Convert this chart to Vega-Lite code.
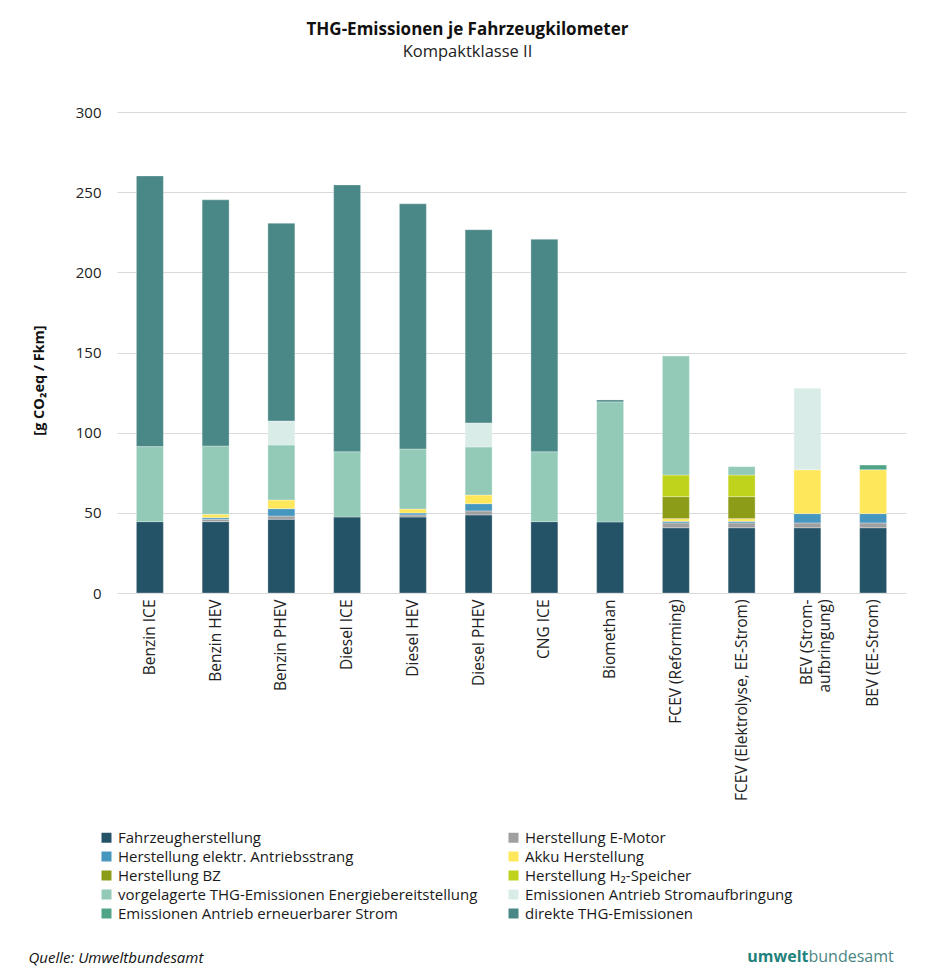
{
  "$schema": "https://vega.github.io/schema/vega-lite/v6.json",
  "width": 789,
  "height": 481,
  "autosize": {"type": "none"},
  "padding": {"left": 117, "top": 112, "right": 36, "bottom": 387},
  "background": "white",
  "config": {"font": "Open Sans", "view": {"stroke": null}},
  "title": {
    "text": "THG-Emissionen je Fahrzeugkilometer",
    "subtitle": "Kompaktklasse II",
    "anchor": "middle",
    "dx": -44,
    "fontSize": 17,
    "fontWeight": "bold",
    "color": "#111111",
    "subtitleFontSize": 16.5,
    "subtitleColor": "#222222",
    "subtitlePadding": 5,
    "offset": 44
  },
  "data": {
    "values": [
      {"cat": "Benzin ICE", "comp": "Fahrzeugherstellung", "v": 44.5},
      {"cat": "Benzin ICE", "comp": "vorgelagerte THG-Emissionen Energiebereitstellung", "v": 46.8},
      {"cat": "Benzin ICE", "comp": "direkte THG-Emissionen", "v": 168.8},

      {"cat": "Benzin HEV", "comp": "Fahrzeugherstellung", "v": 44.5},
      {"cat": "Benzin HEV", "comp": "Herstellung E-Motor", "v": 1.5},
      {"cat": "Benzin HEV", "comp": "Herstellung elektr. Antriebsstrang", "v": 1.0},
      {"cat": "Benzin HEV", "comp": "Akku Herstellung", "v": 2.1},
      {"cat": "Benzin HEV", "comp": "vorgelagerte THG-Emissionen Energiebereitstellung", "v": 42.6},
      {"cat": "Benzin HEV", "comp": "direkte THG-Emissionen", "v": 153.5},

      {"cat": "Benzin PHEV", "comp": "Fahrzeugherstellung", "v": 46.0},
      {"cat": "Benzin PHEV", "comp": "Herstellung E-Motor", "v": 2.0},
      {"cat": "Benzin PHEV", "comp": "Herstellung elektr. Antriebsstrang", "v": 4.6},
      {"cat": "Benzin PHEV", "comp": "Akku Herstellung", "v": 5.4},
      {"cat": "Benzin PHEV", "comp": "vorgelagerte THG-Emissionen Energiebereitstellung", "v": 34.3},
      {"cat": "Benzin PHEV", "comp": "Emissionen Antrieb Stromaufbringung", "v": 15.0},
      {"cat": "Benzin PHEV", "comp": "direkte THG-Emissionen", "v": 123.3},

      {"cat": "Diesel ICE", "comp": "Fahrzeugherstellung", "v": 47.4},
      {"cat": "Diesel ICE", "comp": "vorgelagerte THG-Emissionen Energiebereitstellung", "v": 40.7},
      {"cat": "Diesel ICE", "comp": "direkte THG-Emissionen", "v": 166.4},

      {"cat": "Diesel HEV", "comp": "Fahrzeugherstellung", "v": 47.4},
      {"cat": "Diesel HEV", "comp": "Herstellung E-Motor", "v": 1.3},
      {"cat": "Diesel HEV", "comp": "Herstellung elektr. Antriebsstrang", "v": 1.2},
      {"cat": "Diesel HEV", "comp": "Akku Herstellung", "v": 2.5},
      {"cat": "Diesel HEV", "comp": "vorgelagerte THG-Emissionen Energiebereitstellung", "v": 37.4},
      {"cat": "Diesel HEV", "comp": "direkte THG-Emissionen", "v": 152.9},

      {"cat": "Diesel PHEV", "comp": "Fahrzeugherstellung", "v": 48.7},
      {"cat": "Diesel PHEV", "comp": "Herstellung E-Motor", "v": 2.5},
      {"cat": "Diesel PHEV", "comp": "Herstellung elektr. Antriebsstrang", "v": 4.5},
      {"cat": "Diesel PHEV", "comp": "Akku Herstellung", "v": 5.4},
      {"cat": "Diesel PHEV", "comp": "vorgelagerte THG-Emissionen Energiebereitstellung", "v": 30.0},
      {"cat": "Diesel PHEV", "comp": "Emissionen Antrieb Stromaufbringung", "v": 15.0},
      {"cat": "Diesel PHEV", "comp": "direkte THG-Emissionen", "v": 120.5},

      {"cat": "CNG ICE", "comp": "Fahrzeugherstellung", "v": 44.5},
      {"cat": "CNG ICE", "comp": "vorgelagerte THG-Emissionen Energiebereitstellung", "v": 43.6},
      {"cat": "CNG ICE", "comp": "direkte THG-Emissionen", "v": 132.5},

      {"cat": "Biomethan", "comp": "Fahrzeugherstellung", "v": 44.3},
      {"cat": "Biomethan", "comp": "vorgelagerte THG-Emissionen Energiebereitstellung", "v": 74.9},
      {"cat": "Biomethan", "comp": "direkte THG-Emissionen", "v": 1.2},

      {"cat": "FCEV (Reforming)", "comp": "Fahrzeugherstellung", "v": 40.7},
      {"cat": "FCEV (Reforming)", "comp": "Herstellung E-Motor", "v": 3.0},
      {"cat": "FCEV (Reforming)", "comp": "Herstellung elektr. Antriebsstrang", "v": 1.0},
      {"cat": "FCEV (Reforming)", "comp": "Akku Herstellung", "v": 1.7},
      {"cat": "FCEV (Reforming)", "comp": "Herstellung BZ", "v": 13.7},
      {"cat": "FCEV (Reforming)", "comp": "Herstellung H₂-Speicher", "v": 13.5},
      {"cat": "FCEV (Reforming)", "comp": "vorgelagerte THG-Emissionen Energiebereitstellung", "v": 74.2},

      {"cat": "FCEV (Elektrolyse, EE-Strom)", "comp": "Fahrzeugherstellung", "v": 40.7},
      {"cat": "FCEV (Elektrolyse, EE-Strom)", "comp": "Herstellung E-Motor", "v": 3.0},
      {"cat": "FCEV (Elektrolyse, EE-Strom)", "comp": "Herstellung elektr. Antriebsstrang", "v": 1.0},
      {"cat": "FCEV (Elektrolyse, EE-Strom)", "comp": "Akku Herstellung", "v": 1.7},
      {"cat": "FCEV (Elektrolyse, EE-Strom)", "comp": "Herstellung BZ", "v": 13.7},
      {"cat": "FCEV (Elektrolyse, EE-Strom)", "comp": "Herstellung H₂-Speicher", "v": 13.5},
      {"cat": "FCEV (Elektrolyse, EE-Strom)", "comp": "vorgelagerte THG-Emissionen Energiebereitstellung", "v": 5.2},

      {"cat": "BEV (Stromaufbringung)", "comp": "Fahrzeugherstellung", "v": 40.7},
      {"cat": "BEV (Stromaufbringung)", "comp": "Herstellung E-Motor", "v": 3.0},
      {"cat": "BEV (Stromaufbringung)", "comp": "Herstellung elektr. Antriebsstrang", "v": 5.8},
      {"cat": "BEV (Stromaufbringung)", "comp": "Akku Herstellung", "v": 27.4},
      {"cat": "BEV (Stromaufbringung)", "comp": "Emissionen Antrieb Stromaufbringung", "v": 50.8},

      {"cat": "BEV (EE-Strom)", "comp": "Fahrzeugherstellung", "v": 40.7},
      {"cat": "BEV (EE-Strom)", "comp": "Herstellung E-Motor", "v": 3.0},
      {"cat": "BEV (EE-Strom)", "comp": "Herstellung elektr. Antriebsstrang", "v": 5.8},
      {"cat": "BEV (EE-Strom)", "comp": "Akku Herstellung", "v": 27.4},
      {"cat": "BEV (EE-Strom)", "comp": "Emissionen Antrieb erneuerbarer Strom", "v": 2.9}
    ]
  },
  "layer": [
    {
      "transform": [
        {"calculate": "indexof(['Fahrzeugherstellung', 'Herstellung E-Motor', 'Herstellung elektr. Antriebsstrang', 'Akku Herstellung', 'Herstellung BZ', 'Herstellung H₂-Speicher', 'vorgelagerte THG-Emissionen Energiebereitstellung', 'Emissionen Antrieb Stromaufbringung', 'Emissionen Antrieb erneuerbarer Strom', 'direkte THG-Emissionen'], datum.comp)", "as": "stackOrder"}
      ],
      "mark": {"type": "bar", "stroke": "white", "strokeWidth": 0.6, "strokeOpacity": 0.5},
      "encoding": {
        "x": {
          "field": "cat",
          "type": "nominal",
          "sort": ["Benzin ICE", "Benzin HEV", "Benzin PHEV", "Diesel ICE", "Diesel HEV", "Diesel PHEV", "CNG ICE", "Biomethan", "FCEV (Reforming)", "FCEV (Elektrolyse, EE-Strom)", "BEV (Stromaufbringung)", "BEV (EE-Strom)"],
          "scale": {"paddingInner": 0.59, "paddingOuter": 0.295},
          "axis": {
            "orient": "bottom",
            "title": "Quelle: Umweltbundesamt",
            "titleX": -89,
            "titleY": 364,
            "titleAlign": "left",
            "titleBaseline": "middle",
            "titleFontStyle": "italic",
            "titleFontWeight": "normal",
            "titleFontSize": 15,
            "titleColor": "#111111",
            "labelAngle": -90,
            "labelFontSize": 15.5,
            "labelColor": "#222222",
            "labelPadding": 6,
            "labelLimit": 300,
            "ticks": false,
            "domain": false,
            "labelExpr": "datum.label == 'BEV (Stromaufbringung)' ? ['BEV (Strom-', 'aufbringung)'] : datum.label"
          }
        },
        "y": {
          "field": "v",
          "type": "quantitative",
          "stack": "zero",
          "scale": {"domain": [0, 300], "nice": false},
          "axis": {
            "orient": "left",
            "title": "[g CO₂eq / Fkm]",
            "titleFontSize": 14.5,
            "titleFontWeight": "bold",
            "titleColor": "#111111",
            "titleX": -78,
            "titleY": 268,
            "titleBaseline": "middle",
            "values": [0, 50, 100, 150, 200, 250, 300],
            "labelFontSize": 15,
            "labelColor": "#222222",
            "labelPadding": 16,
            "ticks": false,
            "domain": false,
            "gridColor": "#d9d9d9",
            "gridWidth": 1
          }
        },
        "order": {"field": "stackOrder", "type": "quantitative", "sort": "ascending"},
        "color": {
          "field": "comp",
          "type": "nominal",
          "sort": ["Fahrzeugherstellung", "Herstellung E-Motor", "Herstellung elektr. Antriebsstrang", "Akku Herstellung", "Herstellung BZ", "Herstellung H₂-Speicher", "vorgelagerte THG-Emissionen Energiebereitstellung", "Emissionen Antrieb Stromaufbringung", "Emissionen Antrieb erneuerbarer Strom", "direkte THG-Emissionen"],
          "scale": {
            "domain": ["Fahrzeugherstellung", "Herstellung E-Motor", "Herstellung elektr. Antriebsstrang", "Akku Herstellung", "Herstellung BZ", "Herstellung H₂-Speicher", "vorgelagerte THG-Emissionen Energiebereitstellung", "Emissionen Antrieb Stromaufbringung", "Emissionen Antrieb erneuerbarer Strom", "direkte THG-Emissionen"],
            "range": ["#245266", "#a0a0a0", "#4597c0", "#ffe75c", "#8c9c18", "#c0d31c", "#92cab7", "#daece8", "#4fa487", "#4a8787"]
          },
          "legend": {
            "orient": "none",
            "direction": "horizontal",
            "legendX": -18,
            "legendY": 718,
            "columns": 2,
            "title": null,
            "symbolType": "square",
            "symbolSize": 100,
            "symbolStrokeWidth": 0,
            "symbolOpacity": 1,
            "labelFontSize": 15,
            "labelColor": "#1a1a1a",
            "labelLimit": 500,
            "labelOffset": 4,
            "rowPadding": 3,
            "columnPadding": 28,
            "padding": 0
          }
        }
      }
    },
    {
      "mark": {"type": "point", "opacity": 0},
      "encoding": {
        "x": {
          "field": "cat",
          "type": "nominal",
          "sort": ["Benzin ICE", "Benzin HEV", "Benzin PHEV", "Diesel ICE", "Diesel HEV", "Diesel PHEV", "CNG ICE", "Biomethan", "FCEV (Reforming)", "FCEV (Elektrolyse, EE-Strom)", "BEV (Stromaufbringung)", "BEV (EE-Strom)"],
          "scale": {"paddingInner": 0.59, "paddingOuter": 0.295},
          "axis": {
            "orient": "top",
            "labels": false,
            "ticks": false,
            "domain": false,
            "grid": false,
            "title": "umwelt",
            "titleX": 691,
            "titleY": 844,
            "titleAlign": "right",
            "titleBaseline": "middle",
            "titleFontSize": 16,
            "titleFontWeight": "bold",
            "titleColor": "#1f827d"
          }
        },
        "y": {
          "field": "v",
          "type": "quantitative",
          "scale": {"domain": [0, 300], "nice": false},
          "axis": {
            "orient": "right",
            "labels": false,
            "ticks": false,
            "domain": false,
            "grid": false,
            "title": "bundesamt",
            "titleAngle": 0,
            "titleX": -98,
            "titleY": 844,
            "titleAlign": "left",
            "titleBaseline": "middle",
            "titleFontSize": 16,
            "titleFontWeight": "normal",
            "titleColor": "#4b8583"
          }
        }
      }
    }
  ],
  "resolve": {"axis": {"x": "independent", "y": "independent"}}
}
